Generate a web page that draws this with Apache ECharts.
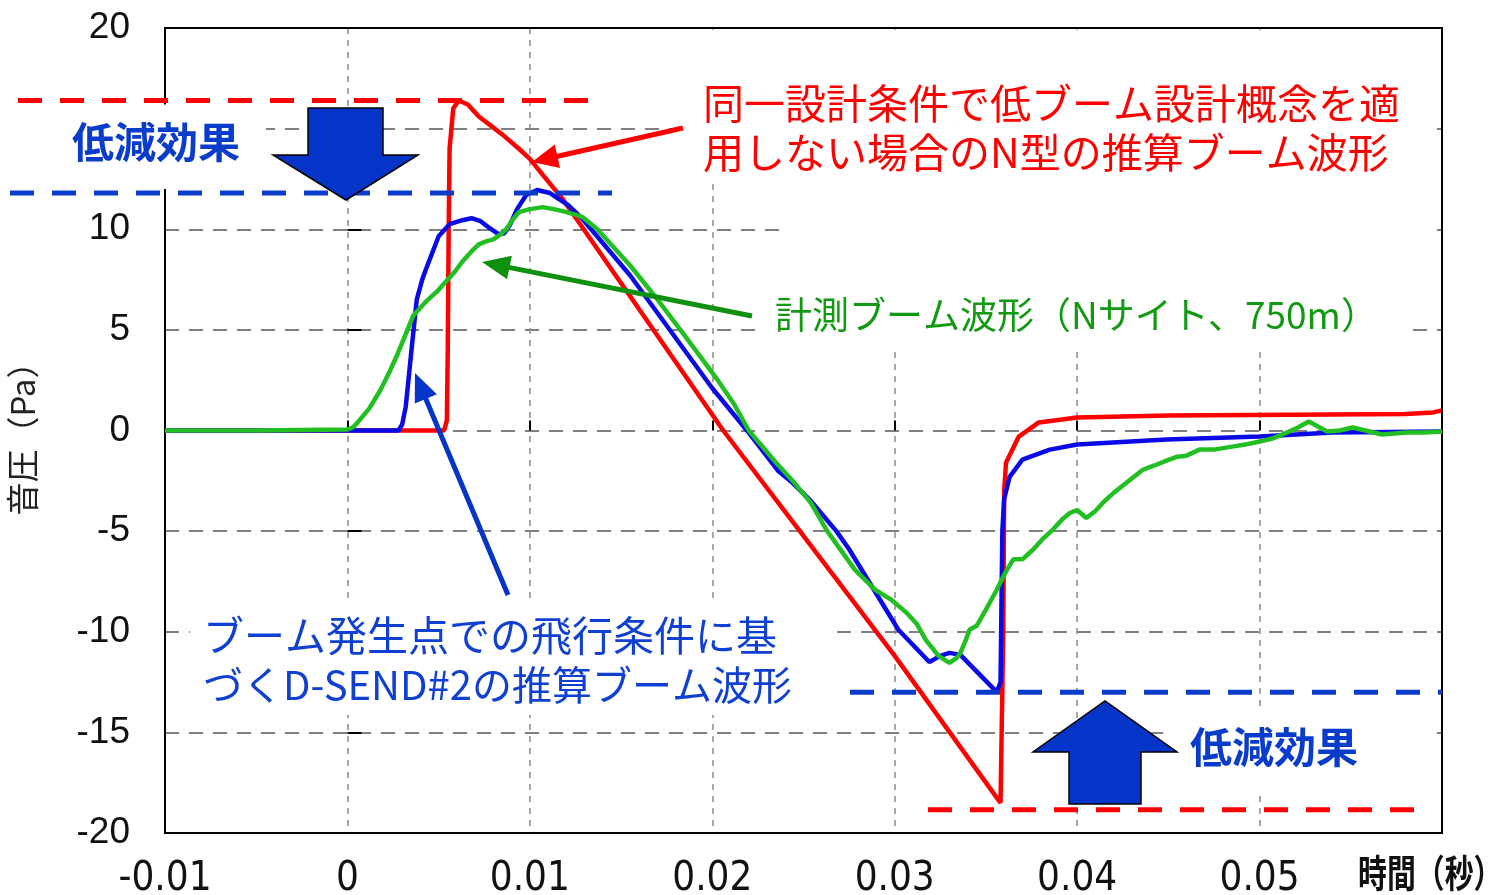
<!DOCTYPE html>
<html>
<head>
<meta charset="utf-8">
<script src="https://cdn.jsdelivr.net/npm/echarts@6/dist/echarts.min.js"></script>
<style>
html,body{margin:0;padding:0;background:#fff;}
#main{width:1508px;height:895px;}
</style>
</head>
<body>
<div id="main"></div>
<script>
// ---- data (time in seconds, pressure in Pa) ----
const xTicks = { min: -0.01, max: 0.06, interval: 0.01 };
const yTicks = { min: -20, max: 20, interval: 5 };

const redNWave = [
  [-0.01,0],[0.0053,0],[0.00545,0.5],[0.0055,4],[0.00555,10],[0.0056,14],[0.0058,16.0],
  [0.0061,16.4],[0.0066,16.2],[0.0072,15.6],[0.0085,14.7],[0.0094,14.0],[0.01,13.5],
  [0.0108,12.6],[0.0118,11.5],[0.0206,0],[0.0248,-5],[0.03,-11.2],[0.0358,-18.5],
  [0.03595,-10],[0.036,-3],[0.0361,-1.6],[0.0368,-0.3],[0.0379,0.4],[0.04,0.65],
  [0.045,0.75],[0.054,0.8],[0.058,0.82],[0.0595,0.9],[0.06,1.0]
];

const blueDSend = [
  [-0.01,0],[0.0028,0],[0.003,0.3],[0.0032,1.2],[0.0035,3.9],[0.0038,6.5],[0.0041,7.5],
  [0.0043,8.0],[0.005,9.65],[0.0056,10.25],[0.0063,10.45],[0.0068,10.55],[0.0073,10.4],
  [0.0078,10.05],[0.0083,9.75],[0.0086,9.8],[0.0089,10.2],[0.0093,11.0],[0.0098,11.7],
  [0.0104,11.95],[0.0111,11.8],[0.0121,11.2],[0.0129,10.5],[0.0155,7.7],[0.02,2.1],
  [0.0219,0],[0.0236,-2.0],[0.0244,-2.6],[0.0254,-3.5],[0.0268,-5.0],[0.0275,-5.9],
  [0.0302,-9.9],[0.0319,-11.5],[0.0325,-11.2],[0.033,-11.05],[0.0336,-11.15],
  [0.0356,-13.0],[0.0358,-12.5],[0.0359,-5],[0.036,-3.4],[0.0363,-2.3],[0.037,-1.45],
  [0.0385,-0.95],[0.04,-0.7],[0.0449,-0.45],[0.05,-0.3],[0.054,-0.1],[0.06,-0.05]
];

const greenMeasured = [
  [-0.01,0],[-0.005,0],[0,0.05],[0.0003,0.15],[0.0007,0.55],[0.0012,1.1],[0.0018,2.0],
  [0.0023,2.9],[0.0027,3.7],[0.0032,4.8],[0.0036,5.7],[0.004,6.1],[0.0043,6.4],
  [0.0049,6.9],[0.0054,7.4],[0.0059,7.9],[0.0063,8.4],[0.0068,8.9],[0.0072,9.25],
  [0.0076,9.4],[0.008,9.5],[0.0084,9.75],[0.0087,10.0],[0.009,10.4],[0.0094,10.85],
  [0.01,11.0],[0.0107,11.1],[0.0113,11.0],[0.0118,10.9],[0.0124,10.75],[0.0129,10.6],
  [0.0137,10.0],[0.0149,8.8],[0.0155,8.2],[0.017,6.5],[0.0185,4.7],[0.0203,2.5],
  [0.0212,1.3],[0.022,0],[0.0235,-1.6],[0.0245,-2.6],[0.0254,-3.6],[0.0263,-5.0],
  [0.0278,-6.9],[0.0289,-7.9],[0.0298,-8.4],[0.0307,-9.1],[0.0312,-9.6],[0.0317,-10.4],
  [0.0324,-11.2],[0.033,-11.55],[0.0334,-11.3],[0.0336,-11.05],[0.0339,-10.4],
  [0.0341,-9.9],[0.0345,-9.7],[0.035,-8.9],[0.0356,-7.9],[0.0361,-7.0],[0.0365,-6.4],
  [0.037,-6.4],[0.0376,-5.9],[0.0381,-5.4],[0.0387,-4.9],[0.0392,-4.4],[0.0396,-4.1],
  [0.04,-3.95],[0.0405,-4.35],[0.041,-4.0],[0.0414,-3.6],[0.042,-3.1],[0.0427,-2.6],
  [0.0436,-1.95],[0.0442,-1.75],[0.0449,-1.5],[0.0455,-1.3],[0.046,-1.25],[0.0467,-0.95],
  [0.0475,-0.95],[0.0485,-0.8],[0.0492,-0.7],[0.05,-0.55],[0.0507,-0.4],[0.0515,-0.1],
  [0.0521,0.15],[0.0527,0.45],[0.0532,0.2],[0.0537,-0.05],[0.0544,0.0],[0.0551,0.15],
  [0.0558,0.0],[0.0567,-0.2],[0.0574,-0.15],[0.0581,-0.1],[0.059,-0.1],[0.06,-0.05]
];

// reference levels for the "reduction effect" dashed lines (Pa)
const levels = { redPeak: 16.4, bluePeak: 11.8, blueMin: -13.0, redMin: -18.85 };

const texts = {
  yName: '音圧（Pa）',
  xName: '時間（秒）',
  effect: '低減効果',
  red: ['同一設計条件で低ブーム設計概念を適', '用しない場合のN型の推算ブーム波形'],
  green: '計測ブーム波形（Nサイト、750m）',
  blue: ['ブーム発生点での飛行条件に基', 'づくD-SEND#2の推算ブーム波形']
};

const COL = {
  red: '#ff0000', blueLine: '#0a0ae6', green: '#22bf22',
  blueDash: '#0a3ccc', blueFill: '#0535c8', blueText: '#1040d2',
  greenText: '#119a11', greenArrow: '#0f900f'
};
const JP = '"Noto Sans CJK JP", "Noto Sans", sans-serif';

const chart = echarts.init(document.getElementById('main'), null, { renderer: 'canvas' });

chart.setOption({
  animation: false,
  backgroundColor: '#fff',
  grid: { left: 165, top: 28, right: 66, bottom: 62, containLabel: false, outerBoundsMode: 'none',
          show: true, borderColor: '#000', borderWidth: 2, backgroundColor: 'transparent', z: 5 },
  xAxis: {
    type: 'value', min: xTicks.min, max: xTicks.max, interval: xTicks.interval,
    axisLine: { show: false },
    axisTick: { show: true, inside: true, length: 10, lineStyle: { color: '#000', width: 2 } },
    axisLabel: { margin: 27, fontSize: 40, color: '#111', fontFamily: '"Liberation Sans Narrow", "DejaVu Sans Condensed", "Liberation Sans", sans-serif', showMaxLabel: false },
    splitLine: { show: true, lineStyle: { color: '#8a8a8a', width: 1.5, type: [6, 6] } }
  },
  yAxis: {
    type: 'value', min: yTicks.min, max: yTicks.max, interval: yTicks.interval,
    name: texts.yName, nameLocation: 'middle', nameGap: 126, nameRotate: 90,
    nameTextStyle: { fontSize: 33, color: '#222', fontFamily: JP },
    axisLine: { show: false },
    axisTick: { show: true, inside: true, length: 14, lineStyle: { color: '#000', width: 2 } },
    axisLabel: { margin: 35, fontSize: 37, color: '#111', fontFamily: '"Liberation Sans", Arial, sans-serif' },
    splitLine: { show: true, lineStyle: { color: '#808080', width: 2, type: [14, 10] } }
  },
  series: [
    { type: 'line', data: redNWave, showSymbol: false, lineStyle: { color: COL.red, width: 4.5 }, z: 3 },
    { type: 'line', data: blueDSend, showSymbol: false, lineStyle: { color: COL.blueLine, width: 4.5 }, z: 4 },
    { type: 'line', data: greenMeasured, showSymbol: false, lineStyle: { color: COL.green, width: 4.5 }, z: 5 }
  ]
});

function py(v) { return chart.convertToPixel({ yAxisIndex: 0 }, v); }

function hDash(x1, x2, y, color) {
  return { type: 'line', z: 120, shape: { x1: x1, y1: y, x2: x2, y2: y },
    style: { stroke: color, lineWidth: 5, lineDash: [24, 18] } };
}
function whiteBox(x, y, w, h) {
  return { type: 'rect', z: 110, shape: { x: x, y: y, width: w, height: h }, style: { fill: '#fff' } };
}
function label(txt, x, y, size, color, bold) {
  return { type: 'text', z: 140, x: x, y: y,
    style: { text: txt, fill: color, fontSize: size, fontFamily: JP, fontWeight: bold ? 'bold' : 'normal', verticalAlign: 'middle', align: 'left' } };
}
function arrow(x1, y1, x2, y2, color, w, hl, hw) {
  const dx = x2 - x1, dy = y2 - y1, L = Math.sqrt(dx * dx + dy * dy);
  const ux = dx / L, uy = dy / L, nx = -uy, ny = ux;
  const bx = x2 - ux * hl, by = y2 - uy * hl;
  return [
    { type: 'line', z: 130, shape: { x1: x1, y1: y1, x2: bx + ux * 2, y2: by + uy * 2 }, style: { stroke: color, lineWidth: w } },
    { type: 'polygon', z: 131, shape: { points: [[x2, y2], [bx + nx * hw / 2, by + ny * hw / 2], [bx - nx * hw / 2, by - ny * hw / 2]] }, style: { fill: color } }
  ];
}
function blockArrow(pts) {
  return { type: 'polygon', z: 125, shape: { points: pts }, style: { fill: COL.blueFill, stroke: '#000', lineWidth: 1.5 } };
}

const yRedPeak = py(levels.redPeak), yBluePeak = py(levels.bluePeak);
const yBlueMin = py(levels.blueMin), yRedMin = py(levels.redMin);

const g = [];
// opaque text boxes (as in the original slide)
g.push(whiteBox(20, yRedPeak + 4, 246, yBluePeak - yRedPeak - 8));
g.push(whiteBox(688, 30, 746, 150));
g.push(whiteBox(783, 180, 651, 110));
g.push(whiteBox(762, 290, 650, 56));
g.push(whiteBox(190, 603, 640, 112));
g.push(whiteBox(1172, 712, 262, 84));
// reduction effect reference levels
g.push(hDash(18, 592, yRedPeak, COL.red));
g.push(hDash(10, 612, yBluePeak, COL.blueDash));
g.push(hDash(850, 1442, yBlueMin, COL.blueDash));
g.push(hDash(928, 1416, yRedMin, COL.red));
// block arrows
g.push(blockArrow([[308, 108], [383, 108], [383, 155], [418, 155], [346, 200], [273, 155], [308, 155]]));
g.push(blockArrow([[1069, 804], [1141, 804], [1141, 752], [1177, 752], [1105, 701], [1033, 752], [1069, 752]]));
// pointer arrows
arrow(683, 128, 532, 162, COL.red, 5, 26, 24).forEach(e => g.push(e));
arrow(752, 316, 482, 262, COL.greenArrow, 5, 28, 24).forEach(e => g.push(e));
arrow(508, 595, 415, 373, COL.blueFill, 5, 28, 24).forEach(e => g.push(e));
// texts
g.push(label(texts.effect, 72, 142, 42, COL.blueDash, true));
g.push(label(texts.effect, 1190, 747, 42, COL.blueDash, true));
g.push(label(texts.red[0], 703, 103, 41, COL.red, false));
g.push(label(texts.red[1], 703, 152, 41, COL.red, false));
g.push(label(texts.green, 775, 315, 37, COL.greenText, false));
g.push(label(texts.blue[0], 203, 635, 41, COL.blueText, false));
g.push(label(texts.blue[1], 203, 685, 40, COL.blueText, false));
g.push({ type: 'text', z: 140, x: 1358, y: 873, scaleX: 0.76,
  style: { text: texts.xName, fill: '#111', fontSize: 38, fontWeight: 'bold', fontFamily: JP, verticalAlign: 'middle', align: 'left' } });

chart.setOption({ graphic: { elements: g } });
</script>
</body>
</html>
